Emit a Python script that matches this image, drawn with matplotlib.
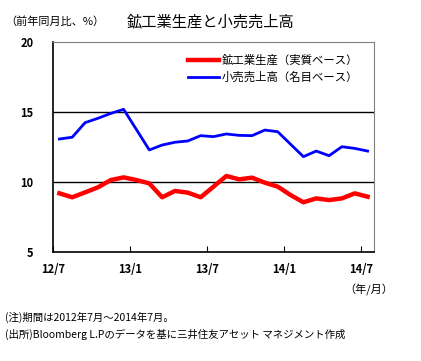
import numpy as np
import matplotlib.pyplot as plt

plt.rcParams['font.family'] = ['Noto Sans CJK JP', 'DejaVu Sans']

# 2012/7 - 2014/7, monthly
months = ["12/7", "13/1", "13/7", "14/1", "14/7"]
mining = [9.19, 8.91, 9.26, 9.62, 10.14, 10.33, 10.14, 9.9, 8.91, 9.36, 9.24, 8.91, 9.67,
          10.43, 10.19, 10.31, 9.95, 9.67, 9.07, 8.55, 8.83, 8.71, 8.83, 9.19, 8.95]
retail = [13.07, 13.2, 14.24, 14.55, 14.9, 15.19, 13.74, 12.29, 12.64, 12.84, 12.93, 13.31, 13.24,
          13.43, 13.33, 13.31, 13.71, 13.59, 12.7, 11.81, 12.21, 11.88, 12.52, 12.4, 12.21]

x = np.arange(len(mining)) + 0.5

fig = plt.figure(figsize=(4.21, 3.61), dpi=100)
ax = fig.add_axes([0.1259, 0.3019, 0.7625, 0.5818])

for yv in (10, 15):
    ax.axhline(yv, color="black", lw=1, zorder=1)
ax.plot(x, mining, color="#ff0000", lw=3.2, label="鉱工業生産（実質ベース）", zorder=3)
ax.plot(x, retail, color="#0000ff", lw=2.0, label="小売売上高（名目ベース）", zorder=3)

ax.set_xlim(0, len(mining))
ax.set_ylim(5, 20)
ax.set_yticks([5, 10, 15, 20])
ax.set_xticks([0, 6, 12, 18, 24])
ax.set_xticklabels(months)
ax.tick_params(axis="y", length=0, pad=14, labelsize=8)
ax.tick_params(axis="x", direction="in", length=4, pad=8, labelsize=8)
for lab in ax.get_xticklabels() + ax.get_yticklabels():
    lab.set_fontweight("bold")

for s in ("top", "right"):
    ax.spines[s].set_color("#808080")
for s in ("left", "bottom"):
    ax.spines[s].set_color("black")
    ax.spines[s].set_linewidth(1.2)

ax.legend(loc="upper left", bbox_to_anchor=(0.405, 0.962), frameon=False, fontsize=8.2,
          handlelength=2.8, handletextpad=0.2, labelspacing=0.5, borderaxespad=0)

fig.text(0.012, 0.94, "（前年同月比、%）", fontsize=8, va="center")
fig.text(0.30, 0.94, "鉱工業生産と小売売上高", fontsize=11, va="center")
fig.text(0.935, 0.197, "（年/月）", fontsize=8, va="center", ha="right")
fig.text(0.012, 0.12, "(注)期間は2012年7月～2014年7月。", fontsize=7.5, va="center")
fig.text(0.012, 0.075, "(出所)Bloomberg L.Pのデータを基に三井住友アセット マネジメント作成", fontsize=7.5, va="center")

fig.savefig("out.png", dpi=100)
